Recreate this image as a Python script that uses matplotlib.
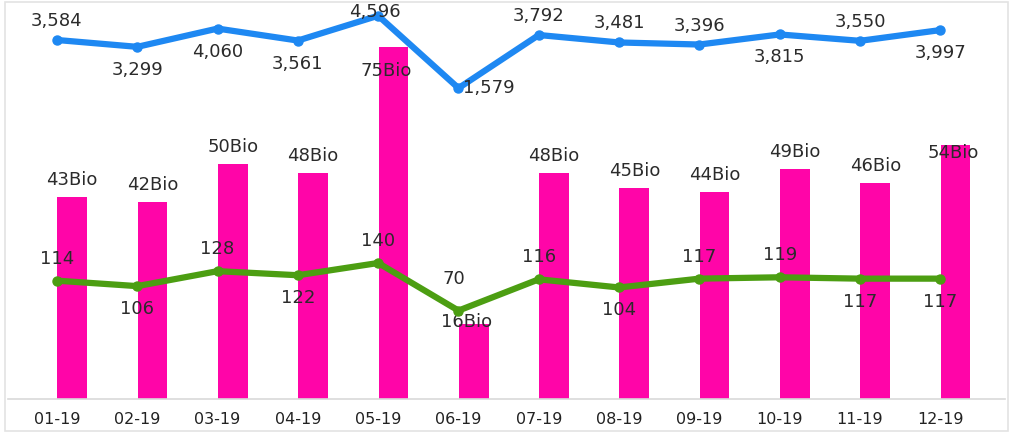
import numpy as np
import matplotlib.pyplot as plt
from matplotlib.patches import Rectangle

# Données
mois = ['01-19', '02-19', '03-19', '04-19', '05-19', '06-19',
        '07-19', '08-19', '09-19', '10-19', '11-19', '12-19']
montants_bio = [43, 42, 50, 48, 75, 16, 48, 45, 44, 49, 46, 54]
serie_bleue = [3584, 3299, 4060, 3561, 4596, 1579, 3792, 3481, 3396, 3815, 3550, 3997]
serie_verte = [114, 106, 128, 122, 140, 70, 116, 104, 117, 119, 117, 117]

# Placement des étiquettes (décalages en pixels)
pos_bleue = ['up', 'down', 'down', 'down', 'top', 'right',
             'up', 'up', 'up', 'down', 'up', 'down']
pos_verte = ['up', 'down', 'up', 'down', 'up', 'high',
             'up', 'down', 'up', 'up', 'down', 'down']
decal_barres = [(0, 17), (0, 17), (0, 17), (0, 17), (-7, -24), (-7, 2),
                (0, 17), (0, 17), (0, 17), (0, 17), (0, 17), (-2, -8)]

rose = '#FF05A8'
bleu = '#1E88F2'
vert = '#4C9E12'
texte = '#2b2b2b'
px = 0.72  # 1 pixel en points a 100 dpi

W, H = 1012, 433
fig = plt.figure(figsize=(W / 100, H / 100), dpi=100)
gauche, droite, haut, bas = 8, 1005, 5, 399
ax = fig.add_axes([gauche / W, 1 - bas / H, (droite - gauche) / W, (bas - haut) / H])

x = np.arange(len(mois))
largeur = 0.37
ax.bar(x + 0.19, montants_bio, width=largeur, color=rose, zorder=2)
ax.set_xlim(-0.61, 11.806)
ax.set_ylim(0, (bas - haut) / 4.70)
ax.set_yticks([])
ax.set_xticks(x)
ax.set_xticklabels(mois, fontsize=11.5, color='#222222')
ax.tick_params(axis='x', length=0, pad=9)
for s in ['top', 'left', 'right']:
    ax.spines[s].set_visible(False)
ax.spines['bottom'].set_color('#d9d9d9')
ax.spines['bottom'].set_linewidth(1.2)

for i, v in enumerate(montants_bio):
    dx, dy = decal_barres[i]
    ax.annotate(f'{v}Bio', (x[i] + 0.19, v), xytext=(dx * px, dy * px),
                textcoords='offset points', ha='center', va='center',
                fontsize=13, color=texte, zorder=5)

# Axe secondaire pour la série verte
ax2 = ax.twinx()
ax2.plot(x, serie_verte, color=vert, linewidth=4.5, marker='o', markersize=6.5,
         solid_capstyle='round', zorder=3)
ax2.set_ylim(140 - (bas - 263) / 0.68, 140 + (263 - haut) / 0.68)

# Axe secondaire pour la série bleue
ax3 = ax.twinx()
ax3.plot(x, serie_bleue, color=bleu, linewidth=4.5, marker='o', markersize=6.5,
         solid_capstyle='round', zorder=3)
ax3.set_ylim(3584 - (bas - 40) / 0.024, 3584 + (40 - haut) / 0.024)

for a in (ax2, ax3):
    a.set_yticks([])
    for s in a.spines.values():
        s.set_visible(False)
    a.set_xlim(ax.get_xlim())

offsets = {'up': (0, 19), 'down': (0, -23), 'top': (-3, 4), 'right': (30, 0), 'high': (-5, 32)}
for i, v in enumerate(serie_bleue):
    dx, dy = offsets[pos_bleue[i]]
    ax3.annotate(f'{v:,}', (x[i], v), xytext=(dx * px, dy * px),
                 textcoords='offset points', ha='center', va='center',
                 fontsize=13, color=texte, zorder=6)
for i, v in enumerate(serie_verte):
    dx, dy = offsets[pos_verte[i]]
    if pos_verte[i] == 'up':
        dy = 22
    ax2.annotate(f'{v}', (x[i], v), xytext=(dx * px, dy * px),
                 textcoords='offset points', ha='center', va='center',
                 fontsize=13, color=texte, zorder=6)

# Cadre gris clair autour de la figure
fig.patches.append(Rectangle((5 / W, 2 / H), 1003 / W, 1 - 4 / H, transform=fig.transFigure,
                             fill=False, edgecolor='#e3e3e3', linewidth=1.2))

fig.savefig('out.png', dpi=100)
